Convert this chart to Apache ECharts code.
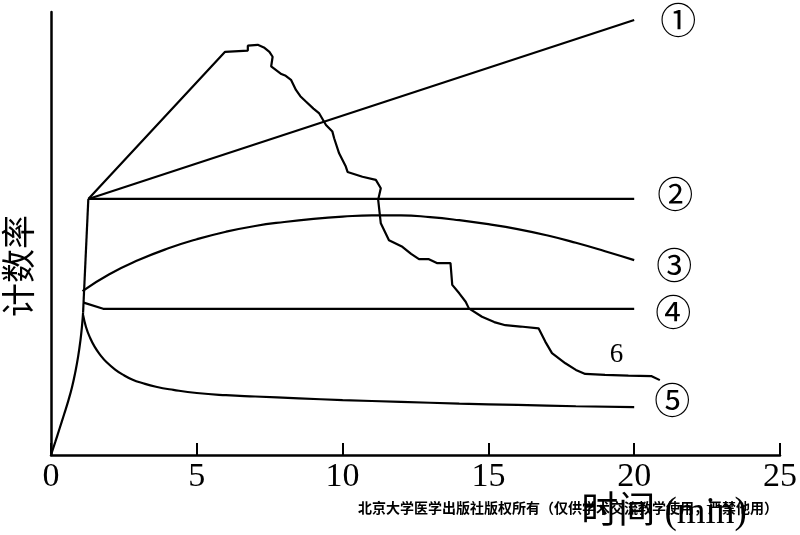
<!DOCTYPE html>
<html>
<head>
<meta charset="utf-8">
<script src="https://cdn.jsdelivr.net/npm/echarts@6/dist/echarts.min.js"></script>
<style>html,body{margin:0;padding:0;background:#fff}#c{width:800px;height:535px}</style>
</head>
<body>
<div id="c"></div>
<script>
// ---- data (x: minutes, y: relative count rate) ----
var xTicks = [0, 5, 10, 15, 20, 25];
var risePts = [[0, 0], [0.15, 3.0], [0.3, 6.1], [0.45, 9.2], [0.6, 12.4], [0.72, 15.3], [0.83, 18.6], [0.93, 22.2], [1.01, 25.9], [1.07, 29.6], [1.10, 32.1]];
var steepPts = [[1.10, 32.1], [1.28, 57.8]];
var line1 = [[1.28, 57.8], [20, 98.2]];
var line2 = [[1.28, 57.8], [20, 57.8]];
var line3 = [[1.08, 37.0], [2, 40.8], [3, 44.0], [4, 46.6], [5, 48.7], [6, 50.4], [7, 51.7], [8, 52.6], [9, 53.3], [10, 53.8], [11, 54.1], [12, 54.1], [13, 53.7], [14, 53.0], [15, 52.1], [16, 51.0], [17, 49.6], [18, 47.9], [19, 46.0], [20, 44.0]];
var line4 = [[1.12, 34.4], [1.79, 33.0], [20, 33.0]];
var line5 = [[1.10, 31.6], [1.2, 28.9], [1.33, 26.6], [1.5, 24.4], [1.7, 22.5], [1.90, 21.0], [2.2, 19.3], [2.5, 18.0], [2.8, 17.0], [3.1, 16.3], [3.6, 15.4], [4.2, 14.7], [5.0, 14.0], [6.0, 13.5], [7.0, 13.2], [8.5, 12.8], [10.0, 12.4], [12.0, 12.0], [14.0, 11.6], [16.0, 11.3], [18.0, 11.0], [20.0, 10.8]];
var line6 = [[1.28, 57.8], [5.97, 91.0], [6.75, 91.3], [6.75, 92.4], [7.09, 92.6], [7.30, 92.0], [7.49, 91.0], [7.60, 89.9], [7.55, 87.7], [7.9, 86.0], [8.05, 85.6], [8.23, 84.7], [8.40, 82.4], [8.55, 81.0], [8.74, 79.8], [9.0, 78.2], [9.20, 77.1], [9.43, 74.5], [9.65, 73.0], [9.71, 71.5], [9.88, 68.1], [10.11, 65.1], [10.17, 63.9], [10.68, 62.8], [11.14, 62.1], [11.31, 60.2], [11.22, 57.6], [11.31, 52.3], [11.59, 48.5], [12.05, 47.0], [12.35, 45.4], [12.62, 44.2], [12.96, 44.2], [13.25, 43.3], [13.70, 43.3], [13.76, 38.4], [14.0, 36.5], [14.22, 34.6], [14.33, 33.1], [14.78, 31.2], [15.2, 30.0], [15.58, 29.3], [16.1, 29.0], [16.72, 28.6], [16.95, 25.6], [17.18, 23.0], [17.64, 20.7], [18.0, 19.2], [18.32, 18.3], [19.00, 18.1], [19.8, 17.9], [20.60, 17.8], [20.88, 16.9]];
var endLabels = ['①', '②', '③', '④', '⑤'];
var curve6Label = '6';
var yTitle = '计数率';
var xTitle = '时间 (min)';
var watermark = '北京大学医学出版社版权所有（仅供学术交流教学使用，严禁他用）';

var chart = echarts.init(document.getElementById('c'), null, {renderer: 'canvas'});
var lineStyle = {color: '#000', width: 2.2};
function ser(data, smooth, extra) {
  var s = {type: 'line', data: data, smooth: smooth, showSymbol: false, symbol: 'none',
    lineStyle: lineStyle, animation: false, silent: true};
  for (var k in extra) s[k] = extra[k];
  return s;
}
function endLab(txt, dx, dy) {
  return {endLabel: {show: true, formatter: txt, distance: 0, offset: [dx, dy],
    fontSize: 36, color: '#000', fontFamily: '"Noto Sans CJK SC", "DejaVu Serif", serif'}};
}
chart.setOption({
  backgroundColor: '#fff',
  animation: false,
  grid: {left: 51, right: 18, top: 12, bottom: 80},
  xAxis: {
    type: 'value', min: xTicks[0], max: xTicks[xTicks.length - 1], interval: 5,
    axisLine: {show: true, lineStyle: {color: '#000', width: 2.5}},
    axisTick: {show: true, inside: true, length: 12, lineStyle: {color: '#000', width: 2}},
    splitLine: {show: false},
    axisLabel: {color: '#000', fontSize: 34, fontFamily: '"Liberation Serif", serif', margin: 5}
  },
  yAxis: {
    type: 'value', min: 0, max: 100,
    axisLine: {show: true, lineStyle: {color: '#000', width: 2.5}},
    axisTick: {show: false}, axisLabel: {show: false}, splitLine: {show: false}
  },
  series: [
    ser(risePts, 0.5, {}),
    ser(steepPts, false, {}),
    ser(line1, false, endLab(endLabels[0], 26, 0)),
    ser(line2, false, endLab(endLabels[1], 23, -5)),
    ser(line3, 0.5, endLab(endLabels[2], 22, 5)),
    ser(line4, false, endLab(endLabels[3], 21, 4)),
    ser(line5, 0.5, endLab(endLabels[4], 20, -7)),
    ser(line6, false, {
      markPoint: {symbol: 'circle', symbolSize: 0, silent: true,
        data: [{coord: [19.39, 22.6], value: curve6Label}],
        label: {show: true, formatter: curve6Label, position: 'inside', color: '#000',
          fontSize: 27, fontFamily: '"Liberation Serif", serif'}}
    })
  ],
  graphic: [
    {type: 'text', x: 18, y: 266, rotation: Math.PI / 2, z: 10,
      style: {text: yTitle, fontSize: 34, fontFamily: '"Noto Sans CJK SC", sans-serif',
        fill: '#000', align: 'center', verticalAlign: 'middle'}},
    {type: 'text', x: 664, y: 513, z: 10,
      style: {text: xTitle, fontSize: 37, fontFamily: '"Liberation Serif", "Noto Sans CJK SC", serif',
        fill: '#000', align: 'center', verticalAlign: 'middle'}},
    {type: 'text', x: 568, y: 508, z: 20,
      style: {text: watermark, fontSize: 14, fontWeight: 'bold', fontFamily: '"Noto Sans CJK SC", sans-serif',
        fill: '#000', align: 'center', verticalAlign: 'middle'}}
  ]
});
</script>
</body>
</html>
